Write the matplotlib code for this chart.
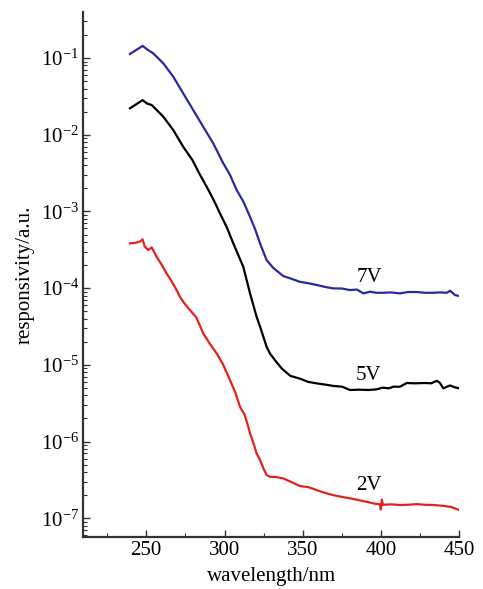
import numpy as np
import matplotlib
matplotlib.use("Agg")
import matplotlib.pyplot as plt
from matplotlib.ticker import LogLocator, FixedLocator, NullFormatter

plt.rcParams['font.family'] = ['Liberation Serif', 'DejaVu Serif']
plt.rcParams['mathtext.fontset'] = 'custom'
plt.rcParams['mathtext.rm'] = 'Liberation Serif'
plt.rcParams['mathtext.it'] = 'Liberation Serif:italic'

# 7V (blue)
wl_7v = [239.6, 243.0, 247.7, 251.0, 254.5, 260.9, 267.3, 273.6, 280.0, 286.4, 292.8,
         299.2, 303.5, 307.8, 312.0, 316.3, 319.5, 322.7, 326.9, 331.0, 335.4, 337.5,
         343.0, 348.2, 353.5, 358.9, 364.0, 369.5, 375.0, 380.2, 384.5, 388.7, 393.0,
         397.0, 401.4, 406.0, 412.1, 417.0, 422.8, 428.0, 433.4, 438.0, 442.0, 444.1,
         447.3, 450.0]
r_7v = [0.113, 0.125, 0.144, 0.128, 0.115, 0.0853, 0.0570, 0.0347, 0.0210, 0.0127, 0.00773,
        0.00424, 0.00300, 0.00190, 0.00135, 0.000853, 0.000590, 0.000384, 0.000232, 0.000185,
        0.000156, 0.000144, 0.000132, 0.000121, 0.000116, 0.000110, 0.000104, 0.0000993,
        0.0000990, 0.0000944, 0.0000960, 0.0000855, 0.0000900, 0.0000870, 0.0000871,
        0.0000880, 0.0000855, 0.0000890, 0.0000891, 0.0000870, 0.0000871, 0.0000880,
        0.0000870, 0.0000925, 0.0000813, 0.0000789]

# 5V (black)
wl_5v = [239.6, 243.0, 247.7, 250.5, 253.5, 260.9, 267.3, 273.6, 279.5, 284.0, 288.6,
         293.0, 297.1, 301.5, 305.6, 312.0, 316.3, 320.5, 322.7, 326.9, 329.0, 333.0,
         336.7, 342.0, 348.2, 353.5, 358.9, 365.0, 370.0, 375.0, 380.2, 386.0, 392.0,
         397.2, 401.0, 405.0, 408.0, 412.1, 416.4, 422.0, 428.0, 432.0, 435.6, 437.5,
         439.8, 444.0, 447.0, 450.0]
r_5v = [0.0221, 0.0245, 0.0283, 0.0255, 0.0244, 0.0172, 0.0115, 0.00698, 0.00468, 0.00310,
        0.00210, 0.00142, 0.000944, 0.000620, 0.000384, 0.000190, 0.0000855, 0.0000424,
        0.0000316, 0.0000172, 0.0000141, 0.0000110, 0.00000891, 0.00000720, 0.00000661,
        0.00000600, 0.00000574, 0.00000550, 0.00000530, 0.00000520, 0.00000470, 0.00000475,
        0.00000470, 0.00000480, 0.00000505, 0.00000495, 0.00000520, 0.00000519, 0.00000580,
        0.00000575, 0.00000580, 0.00000575, 0.00000620, 0.00000585, 0.00000494, 0.00000540,
        0.00000510, 0.00000494]

# 2V (red)
wl_2v = [239.6, 243.0, 246.0, 247.7, 249.0, 251.3, 253.5, 256.6, 260.0, 263.0, 266.0,
         269.4, 271.5, 274.5, 277.9, 282.0, 286.4, 290.5, 295.0, 299.0, 303.5, 307.0,
         309.9, 313.0, 315.2, 316.3, 318.5, 320.5, 322.7, 324.8, 326.9, 329.0, 333.0,
         337.5, 343.0, 348.2, 353.5, 358.9, 364.0, 369.5, 375.0, 380.2, 386.0, 392.0,
         396.0, 399.3, 399.9, 400.5, 401.2, 406.0, 412.1, 417.0, 422.8, 428.0, 433.4,
         440.0, 445.0, 450.0]
r_2v = [3.84e-4, 3.90e-4, 4.05e-4, 4.33e-4, 3.50e-4, 3.14e-4, 3.40e-4, 2.57e-4, 2.00e-4,
        1.56e-4, 1.25e-4, 9.44e-5, 7.73e-5, 6.30e-5, 5.18e-5, 4.15e-5, 2.58e-5, 1.90e-5,
        1.41e-5, 1.02e-5, 6.34e-6, 4.30e-6, 2.84e-6, 2.20e-6, 1.56e-6, 1.28e-6, 9.50e-7,
        7.02e-7, 5.74e-7, 4.50e-7, 3.66e-7, 3.48e-7, 3.45e-7, 3.31e-7, 2.95e-7, 2.63e-7,
        2.55e-7, 2.33e-7, 2.15e-7, 2.00e-7, 1.90e-7, 1.82e-7, 1.72e-7, 1.62e-7, 1.55e-7,
        1.52e-7, 1.30e-7, 1.75e-7, 1.50e-7, 1.52e-7, 1.49e-7, 1.50e-7, 1.53e-7, 1.50e-7,
        1.49e-7, 1.45e-7, 1.40e-7, 1.28e-7]

labels = ["7V", "5V", "2V"]
label_x = [392.3, 392.0, 392.5]
label_y = [1.37e-4, 7.36e-6, 2.71e-7]

x_major = [250, 300, 350, 400, 450]
x_minor = [225, 275, 325, 375, 425]
y_major = [1e-7, 1e-6, 1e-5, 1e-4, 1e-3, 1e-2, 1e-1]

fig = plt.figure(figsize=(4.83, 5.89), dpi=100)
ax = fig.add_axes([0.1718, 0.0888, 0.951 - 0.1718, 0.9796 - 0.0888])

ax.plot(wl_7v, r_7v, color='#2a2a9a', lw=1.6)
ax.plot(wl_5v, r_5v, color='black', lw=1.6)
ax.plot(wl_2v, r_2v, color='#e0231c', lw=1.6)

for t, x, y in zip(labels, label_x, label_y):
    ax.text(x, y, t, fontsize=15, ha='center', va='center')

ax.set_yscale('log')
ax.set_xlim(209.6, 450)
ax.set_ylim(10 ** -7.24, 10 ** -0.40)

ax.xaxis.set_major_locator(FixedLocator(x_major))
ax.xaxis.set_minor_locator(FixedLocator(x_minor))
ax.yaxis.set_major_locator(FixedLocator(y_major))
ax.yaxis.set_minor_locator(LogLocator(base=10, subs=np.arange(2, 10), numticks=20))
ax.yaxis.set_minor_formatter(NullFormatter())

for s in ['top', 'right']:
    ax.spines[s].set_visible(False)
for s in ['left', 'bottom']:
    ax.spines[s].set_linewidth(1.6)
    ax.spines[s].set_color('#333333')

ax.tick_params(axis='both', which='major', direction='in', length=5, width=1.0,
               labelsize=15, pad=3, color='#333333')
ax.tick_params(axis='both', which='minor', direction='in', length=3, width=0.8,
               color='#333333')

ax.set_xlabel('wavelength/nm', fontsize=15, labelpad=5)
ax.set_ylabel('responsivity/a.u.', fontsize=15, labelpad=4)

fig.savefig('out.png', dpi=100)
